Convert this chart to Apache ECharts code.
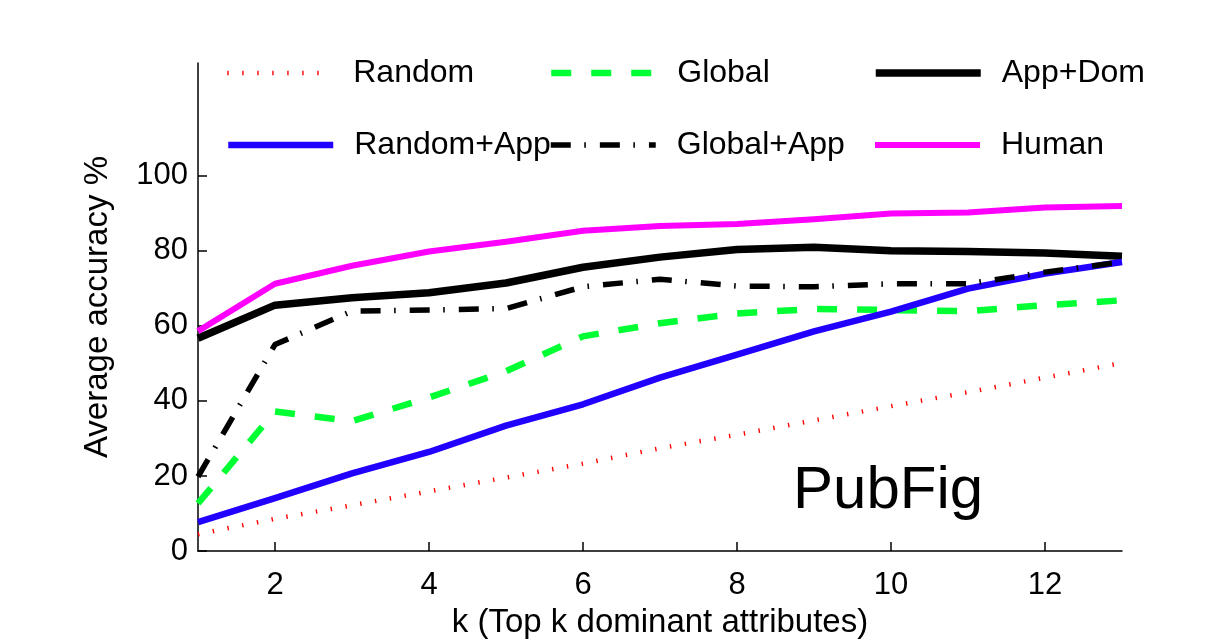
<!DOCTYPE html>
<html>
<head>
<meta charset="utf-8">
<script src="https://cdn.jsdelivr.net/npm/echarts@6/dist/echarts.min.js"></script>
<style>
html,body{margin:0;padding:0;background:#fff;}
#chart{width:1225px;height:644px;}
</style>
</head>
<body>
<div id="chart"></div>
<script>
const kValues = [1,2,3,4,5,6,7,8,9,10,11,12,13];
const randomAcc = [4.5, 8.6, 12.2, 15.9, 19.6, 23.3, 27.4, 31.0, 34.8, 38.6, 42.3, 46.2, 50.1];
const globalAcc = [12.7, 37.2, 34.6, 40.9, 47.9, 57.2, 60.7, 63.3, 64.5, 64.2, 63.9, 65.5, 66.8];
const appDomAcc = [56.7, 65.5, 67.5, 68.8, 71.4, 75.6, 78.3, 80.3, 80.9, 80.0, 79.8, 79.4, 78.5];
const randomAppAcc = [7.7, 14.1, 20.7, 26.4, 33.4, 39.1, 46.2, 52.3, 58.5, 63.8, 69.9, 73.9, 77.0];
const globalAppAcc = [19.8, 55.0, 63.9, 64.2, 64.6, 70.4, 72.4, 70.6, 70.4, 71.2, 71.2, 74.3, 77.0];
const humanAcc = [58.6, 71.2, 76.0, 79.8, 82.4, 85.3, 86.6, 87.1, 88.4, 89.9, 90.2, 91.5, 91.9];
const xTicks = [2,4,6,8,10,12];
const yTicks = [0,20,40,60,80,100];
const seriesNames = ['Random','Global','App+Dom','Random+App','Global+App','Human'];

const FONT = '"Liberation Sans", Arial, Helvetica, sans-serif';
const pairs = v => v.map((y,i)=>[kValues[i], y]);

const styles = {
  'Random':     {color:'#ff0000', width:4.5, type:[1.4,13.6]},
  'Global':     {color:'#00ff33', width:6.5, type:[20,20]},
  'App+Dom':    {color:'#000000', width:7.5, type:'solid'},
  'Random+App': {color:'#2200ff', width:6.5, type:'solid'},
  'Global+App': {color:'#000000', width:5.5, type:[20,13.5,1.6,14]},
  'Human':      {color:'#ff00ff', width:6,   type:'solid'}
};
const dataMap = {
  'Random': randomAcc, 'Global': globalAcc, 'App+Dom': appDomAcc,
  'Random+App': randomAppAcc, 'Global+App': globalAppAcc, 'Human': humanAcc
};
const legendPos = {
  'Random':[225,57], 'Global':[548,57], 'App+Dom':[872,57],
  'Random+App':[225,129], 'Global+App':[548,129], 'Human':[872,129]
};

const chart = echarts.init(document.getElementById('chart'), null, {renderer:'canvas'});
const option = {
  backgroundColor:'#ffffff',
  animation:false,
  title:{
    text:'PubFig', left:793, top:461, padding:0,
    textStyle:{fontFamily:FONT, fontSize:60, fontWeight:'normal', color:'#000'}
  },
  grid:{left:198, right:103, top:63, bottom:91, containLabel:false},
  legend: seriesNames.map(n => ({
    data:[n], left:legendPos[n][0], top:legendPos[n][1], padding:0,
    itemWidth:105, itemHeight:32,
    itemStyle:{opacity:0},
    lineStyle:{width:styles[n].width, type:styles[n].type, color:styles[n].color, cap:'butt'},
    textStyle:{fontFamily:FONT, fontSize:32, color:'#000', padding:[0,0,0,16]},
    selectedMode:false
  })),
  xAxis:{
    type:'value', min:1, max:13,
    name:'k (Top k dominant attributes)', nameLocation:'middle', nameGap:52,
    nameTextStyle:{fontFamily:FONT, fontSize:33, color:'#000'},
    axisLine:{show:true, onZero:false, lineStyle:{color:'#000', width:1.5}},
    axisTick:{show:true, inside:true, length:9, customValues:xTicks, lineStyle:{color:'#000', width:1.5}},
    axisLabel:{show:true, customValues:xTicks, margin:19, fontFamily:FONT, fontSize:31, color:'#000'},
    splitLine:{show:false}
  },
  yAxis:{
    type:'value', min:0, max:130,
    name:'Average accuracy %', nameLocation:'middle', nameGap:84,
    nameTextStyle:{fontFamily:FONT, fontSize:33, color:'#000'},
    axisLine:{show:true, onZero:false, lineStyle:{color:'#000', width:1.5}},
    axisTick:{show:true, inside:true, length:9, customValues:yTicks, lineStyle:{color:'#000', width:1.5}},
    axisLabel:{show:true, customValues:yTicks, margin:10, fontFamily:FONT, fontSize:31, color:'#000'},
    splitLine:{show:false}
  },
  series: seriesNames.map(n => ({
    name:n, type:'line', data:pairs(dataMap[n]), symbol:'none', smooth:false,
    lineStyle:{color:styles[n].color, width:styles[n].width, type:styles[n].type, cap:'butt', join:'round'},
    itemStyle:{color:styles[n].color}
  }))
};
chart.setOption(option);
</script>
</body>
</html>
